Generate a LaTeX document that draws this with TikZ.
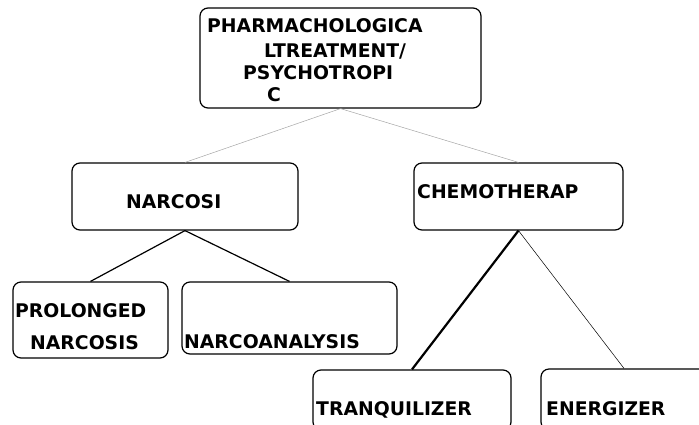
\documentclass[tikz,border=0pt]{standalone}
\usepackage{fontspec}
\setmainfont{DejaVu Sans}
\usepackage{tikz}

\begin{document}
\begin{tikzpicture}[x=1pt,y=-1pt,
  box/.style={draw,rounded corners=8pt,line width=1.2pt,inner sep=0pt},
  lbl/.style={anchor=base west,inner sep=0pt,font=\fontsize{18.8}{22}\selectfont\bfseries},
  link/.style={line width=1.2pt}]
\useasboundingbox (0,0) rectangle (699,424);
% boxes
\node[box,minimum width=281pt,minimum height=100pt] (pharma) at (340.5,58) {};
\node[box,minimum width=226pt,minimum height=67pt] (narcosi) at (185,196.5) {};
\node[box,minimum width=209pt,minimum height=67pt] (chemo) at (518.5,196.5) {};
\node[box,minimum width=155pt,minimum height=76pt] (prolonged) at (90.5,320) {};
\node[box,minimum width=215pt,minimum height=72pt] (analysis) at (289.5,318) {};
\node[box,minimum width=198pt,minimum height=60pt] (tranq) at (412,400) {};
\node[box,minimum width=166pt,minimum height=61pt] (energ) at (624,399.5) {};
% texts
\node[lbl] (pharmaA) at (207,32.5) {PHARMACHOLOGICA};
\node[lbl] (pharmaB) at (264,57) {LTREATMENT/};
\node[lbl] (pharmaC) at (243,79.5) {PSYCHOTROPI};
\node[lbl] (pharmaD) at (267,101.5) {C};
\node[lbl] (narcosiT) at (126,208.5) {NARCOSI};
\node[lbl] (chemoT) at (417,198.5) {CHEMOTHERAP};
\node[lbl] (prolongedA) at (15,317) {PROLONGED};
\node[lbl] (prolongedB) at (30,349) {NARCOSIS};
\node[lbl] (analysisT) at (184,348.5) {NARCOANALYSIS};
\node[lbl] (tranqT) at (316,415.5) {TRANQUILIZER};
\node[lbl] (energT) at (546,415.5) {ENERGIZER};
% connectors
\draw[gray!70,line width=0.5pt] (pharma.south) -- (narcosi.north);
\draw[gray!70,line width=0.5pt] (pharma.south) -- (chemo.north);
\draw[link] (narcosi.south) -- (prolonged.north);
\draw[link] (narcosi.south) -- (analysis.north);
\draw[line width=2.2pt] (chemo.south) -- (tranq.north);
\draw[line width=0.5pt] (chemo.south) -- (energ.north);
\end{tikzpicture}
\end{document}
